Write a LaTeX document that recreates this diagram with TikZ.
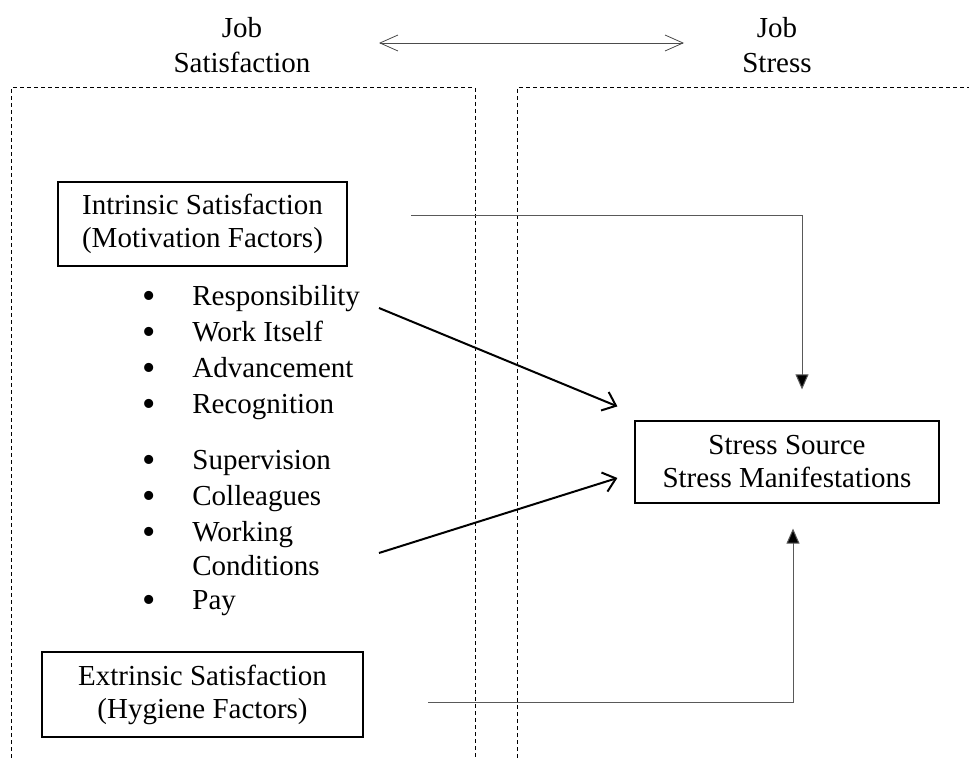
\documentclass[tikz,border=0pt]{standalone}
\usepackage{fontspec}
\setmainfont{Liberation Serif}
\usetikzlibrary{positioning,arrows.meta}

\newcommand{\diagfont}{\fontsize{14.5}{17.5}\selectfont}
\tikzstyle{factorbox} = [rectangle, draw=black, line width=0.6pt, align=center, inner sep=0pt, font=\fontsize{14.5}{16.5}\selectfont]
\tikzstyle{heading} = [align=center, inner sep=0pt, font=\diagfont]
\tikzstyle{factor} = [anchor=base west, inner sep=0pt, text height=1.5ex, text depth=0.25ex, font=\diagfont, label={[inner sep=0pt, label distance=17.7pt, font=\fontsize{19}{19}\selectfont]left:\textbullet}]
\tikzstyle{subline} = [anchor=base west, inner sep=0pt, text height=1.5ex, text depth=0.25ex, font=\diagfont]
\tikzstyle{region} = [dash pattern=on 2pt off 1.5pt, line width=0.5pt]
\tikzstyle{arrow} = [line width=1pt, -{Straight Barb[length=6pt,width=10pt]}]
\tikzstyle{link} = [black!65, line width=0.5pt, -{Triangle[length=7.5pt,width=6.5pt,fill=black]}]
\tikzstyle{pairarrow} = [black!70, line width=0.4pt, {Straight Barb[length=9pt,width=8pt]}-{Straight Barb[length=9pt,width=8pt]}]

\begin{document}
\begin{tikzpicture}[x=0.5pt, y=-0.5pt]
	\useasboundingbox (0,0) rectangle (969,758);
	% Regions
	\draw [region] (11,758) -- (11,88) -- (475,88) -- (475,758);
	\draw [region] (517,758) -- (517,88) -- (969,88);
	% Headings
	\node [heading] (jobsat) at (242,45) {Job\\Satisfaction};
	\node [heading] (jobstr) at (777,45) {Job\\Stress};
	\coordinate (pairl) at (379,43);
	\coordinate (pairr) at (684,43);
	% Place nodes
	\node [factorbox, minimum width=144.5pt, minimum height=42pt] (intrinsic) at (202.5,224) {Intrinsic Satisfaction\\(Motivation Factors)};
	\node [factor] (resp) at (192,306) {Responsibility};
	\node [below=18pt of resp.base west, factor] (itself) {Work Itself};
	\node [below=18pt of itself.base west, factor] (advance) {Advancement};
	\node [below=18pt of advance.base west, factor] (recog) {Recognition};
	\node [below=28pt of recog.base west, factor] (superv) {Supervision};
	\node [below=18pt of superv.base west, factor] (colleag) {Colleagues};
	\node [below=18pt of colleag.base west, factor] (working) {Working};
	\node [below=16.5pt of working.base west, subline] (cond) {Conditions};
	\node [below=17.5pt of cond.base west, factor] (pay) {Pay};
	\node [factorbox, minimum width=160.5pt, minimum height=42.5pt] (extrinsic) at (202.5,694.5) {Extrinsic Satisfaction\\(Hygiene Factors)};
	\node [factorbox, minimum width=152pt, minimum height=41pt] (stress) at (787,462) {Stress Source\\Stress Manifestations};
	\coordinate (respout) at (379,308);
	\coordinate (hygout) at (379,553);
	\coordinate (intout) at (411,216);
	\coordinate (extout) at (428,702);
	% Draw edges
	\draw [pairarrow] (pairl) -- (pairr);
	\draw [arrow] (respout) -- ([shift={(-17,-14)}]stress.north west);
	\draw [arrow] (hygout) -- ([shift={(-17,16)}]stress.west);
	\draw [link] (intout) -| ([shift={(15,-31)}]stress.north);
	\draw [link] (extout) -| ([shift={(6,25)}]stress.south);
\end{tikzpicture}
\end{document}
